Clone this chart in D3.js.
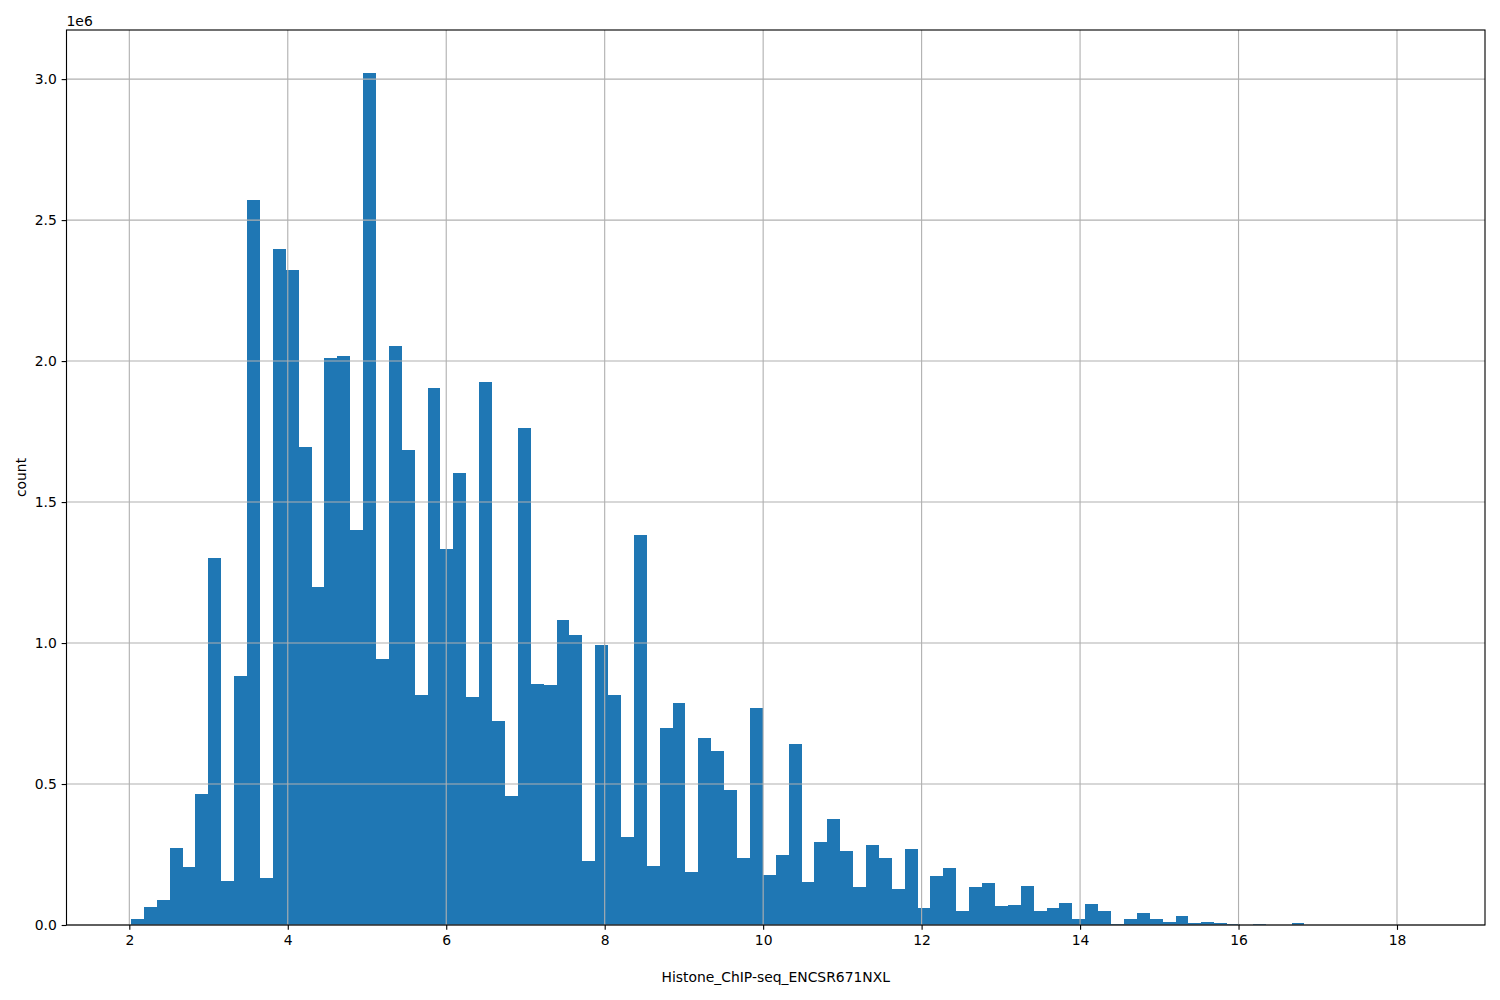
<!DOCTYPE html>
<html>
<head>
<meta charset="utf-8">
<script src="https://cdn.jsdelivr.net/npm/d3@7"></script>
<style>
  html, body { margin: 0; padding: 0; background: #ffffff; }
  svg { display: block; font-family: "DejaVu Sans", sans-serif; }
</style>
</head>
<body>
<svg id="chart" width="1500" height="1000"></svg>
<script>
// ---- data ----
const histMin = 2.021;
const histMax = 18.297;
const binCounts = [
  20000, 65000, 87000, 272000, 207000, 463000, 1300000, 157000, 882000, 2571000,
  165000, 2396000, 2323000, 1697000, 1197000, 2010000, 2018000, 1400000, 3023000, 945000,
  2053000, 1683000, 815000, 1904000, 1335000, 1602000, 807000, 1927000, 722000, 457000,
  1762000, 856000, 850000, 1081000, 1028000, 228000, 994000, 817000, 312000, 1382000,
  211000, 700000, 786000, 189000, 664000, 618000, 479000, 236000, 768000, 179000,
  248000, 643000, 154000, 293000, 375000, 261000, 136000, 282000, 239000, 128000,
  270000, 60000, 174000, 203000, 50000, 135000, 149000, 68000, 71000, 139000,
  50000, 60000, 78000, 21000, 75000, 50000, 2000, 21000, 43000, 21000,
  11000, 32000, 7000, 11000, 7000, 4000, 1000, 4000, 0, 0,
  7000, 0, 0, 0, 0, 0, 0, 0, 0, 500
];
const xTicks = [2, 4, 6, 8, 10, 12, 14, 16, 18];
const yTicks = [0, 0.5e6, 1.0e6, 1.5e6, 2.0e6, 2.5e6, 3.0e6];
const xLabel = "Histone_ChIP-seq_ENCSR671NXL";
const yLabel = "count";
const offsetText = "1e6";

// ---- layout ----
const L = 66.5, R = 1485, T = 30, B = 925;
const svg = d3.select("#chart");
const nBins = binCounts.length;
const binW = (histMax - histMin) / nBins;
const bins = binCounts.map((c, i) => ({ x0: histMin + i * binW, x1: histMin + (i + 1) * binW, count: c }));

const span = histMax - histMin;
const x = d3.scaleLinear().domain([histMin - 0.05 * span, histMax + 0.05 * span]).range([L, R]);
const yMax = d3.max(binCounts) * 1.05;
const y = d3.scaleLinear().domain([0, yMax]).range([B, T]);

const fs = 13.9;
const tickLen = 4.86, tickPad = 4.86;

// bars
svg.append("g").selectAll("rect").data(bins).join("rect")
  .attr("x", d => x(d.x0))
  .attr("width", d => x(d.x1) - x(d.x0))
  .attr("y", d => y(d.count))
  .attr("height", d => B - y(d.count))
  .attr("fill", "#1f77b4")
  .attr("shape-rendering", "crispEdges");

// grid (drawn above bars, like matplotlib)
const grid = svg.append("g");
grid.selectAll("line.gx").data(xTicks).join("line")
  .attr("x1", d => x(d)).attr("x2", d => x(d))
  .attr("y1", T).attr("y2", B)
  .attr("stroke", "#b0b0b0").attr("stroke-width", 1.11);
grid.selectAll("line.gy").data(yTicks).join("line")
  .attr("x1", L).attr("x2", R)
  .attr("y1", d => y(d)).attr("y2", d => y(d))
  .attr("stroke", "#b0b0b0").attr("stroke-width", 1.11);

// axes via d3
const xAxis = d3.axisBottom(x).tickValues(xTicks).tickFormat(d3.format("d"))
  .tickSizeInner(tickLen).tickSizeOuter(0).tickPadding(tickPad);
const gx = svg.append("g").attr("transform", `translate(0,${B})`).call(xAxis);
const yAxis = d3.axisLeft(y).tickValues(yTicks).tickFormat(d => (d / 1e6).toFixed(1))
  .tickSizeInner(tickLen).tickSizeOuter(0).tickPadding(tickPad);
const gy = svg.append("g").attr("transform", `translate(${L},0)`).call(yAxis);
[gx, gy].forEach(g => {
  g.select(".domain").remove();
  g.selectAll(".tick line").attr("stroke", "#000").attr("stroke-width", 1.11);
  g.selectAll(".tick text").attr("fill", "#000").attr("font-size", fs)
    .attr("font-family", "DejaVu Sans, sans-serif");
});

// spines
svg.append("rect").attr("x", L).attr("y", T).attr("width", R - L).attr("height", B - T)
  .attr("fill", "none").attr("stroke", "#000").attr("stroke-width", 1.11);

// labels
svg.append("text").attr("x", (L + R) / 2).attr("y", 982).attr("text-anchor", "middle")
  .attr("font-size", fs).attr("fill", "#000").text(xLabel);
svg.append("text").attr("transform", `translate(26,${(T + B) / 2}) rotate(-90)`)
  .attr("text-anchor", "middle").attr("font-size", fs).attr("fill", "#000").text(yLabel);
svg.append("text").attr("x", L).attr("y", 26).attr("text-anchor", "start")
  .attr("font-size", fs).attr("fill", "#000").text(offsetText);
</script>
</body>
</html>
